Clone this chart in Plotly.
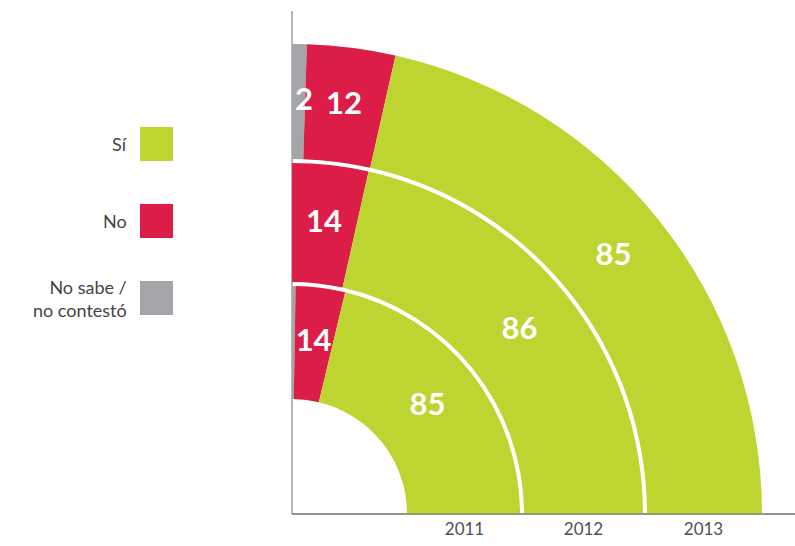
import math
import plotly.graph_objects as go

# ---------------- data ----------------
years = ["2011", "2012", "2013"]
si_vals = [85, 86, 85]
no_vals = [14, 14, 12]
ns_vals = [1, 0, 2]          # No sabe / no contestó
legend_labels = ["Sí", "No", "No sabe /<br>no contestó"]

# ---------------- styles ----------------
GREEN = "#BED531"
RED = "#DC1D47"
GRAY = "#A3A5A8"
AXIS = "#707070"
FONT = "Lato"

W, H = 795, 546
CX, CY = 292, 514          # pixel position of the polar centre
R_PX = W - CX              # radial extent in px (square domain)

ring_edges = [115, 230, 353, 470]   # ring boundaries (px-like radial units)
gap = 4
label_half_px = 12                  # keep labels clear of the vertical axis

fig = go.Figure()

ring_base, ring_len, ring_mid = [], [], []
for i in range(len(years)):
    b = ring_edges[i] + (gap / 2 if i > 0 else 0)
    t = ring_edges[i + 1] - (gap / 2 if i < len(years) - 1 else 0)
    ring_base.append(b)
    ring_len.append(t - b)
    ring_mid.append((ring_edges[i] + ring_edges[i + 1]) / 2)

series = [("No sabe / no contestó", ns_vals, GRAY),
          ("No", no_vals, RED),
          ("Sí", si_vals, GREEN)]

totals = [sum(v[i] for _, v, _ in series) for i in range(len(years))]
start = [0.0] * len(years)
label_r, label_t, label_txt = [], [], []
for name, vals, col in series:
    thetas, widths = [], []
    for i in range(len(years)):
        w = vals[i] / totals[i] * 90.0
        thetas.append(start[i] + w / 2)
        widths.append(w)
        if vals[i] >= 2:
            min_t = math.degrees(label_half_px / ring_mid[i])
            label_r.append(ring_mid[i])
            label_t.append(max(start[i] + w / 2, min_t))
            label_txt.append(str(vals[i]))
        start[i] += w
    fig.add_trace(go.Barpolar(
        r=ring_len, base=ring_base, theta=thetas, width=widths,
        marker=dict(color=col, line=dict(width=0)),
        name=name, showlegend=False, hoverinfo="skip"))

fig.add_trace(go.Scatterpolar(
    r=label_r, theta=label_t, text=label_txt, mode="text", cliponaxis=False,
    textfont=dict(family=FONT, size=31, color="white", weight="bold"),
    showlegend=False, hoverinfo="skip"))

fig.update_layout(
    width=W, height=H, margin=dict(l=0, r=0, t=0, b=0),
    paper_bgcolor="white", plot_bgcolor="white",
    font=dict(family=FONT),
    polar=dict(
        domain=dict(x=[CX / W, 1.0], y=[(H - CY) / H, (H - CY + R_PX) / H]),
        sector=[0, 90], bgcolor="white", hole=0,
        radialaxis=dict(range=[0, R_PX], showgrid=False, showline=True,
                        linecolor=AXIS, linewidth=1.2, ticks="",
                        tickvals=ring_mid, ticktext=years, side="clockwise",
                        tickfont=dict(family=FONT, size=17, color="#505050"),
                        angle=0),
        angularaxis=dict(rotation=90, direction="clockwise", showline=False,
                         tickvals=[0, 90], showticklabels=False, ticks="",
                         showgrid=True, gridcolor=AXIS, gridwidth=1.2),
    ),
)

# ---------------- custom legend (text left of swatch) ----------------
legend_colors = [GREEN, RED, GRAY]
legend_y = [144, 221, 298]
for lab, col, yc in zip(legend_labels, legend_colors, legend_y):
    fig.add_shape(type="rect", xref="paper", yref="paper",
                  x0=140 / W, x1=173 / W, y0=1 - (yc + 17) / H, y1=1 - (yc - 17) / H,
                  fillcolor=col, line=dict(width=0))
    fig.add_annotation(xref="paper", yref="paper", x=129 / W, y=1 - yc / H,
                       xanchor="right", yanchor="middle", align="right",
                       text=lab, showarrow=False,
                       font=dict(family=FONT, size=18, color="#444444"))

fig.write_html("out.html", config={"displayModeBar": False},
               post_script="document.body.style.margin='0';")
